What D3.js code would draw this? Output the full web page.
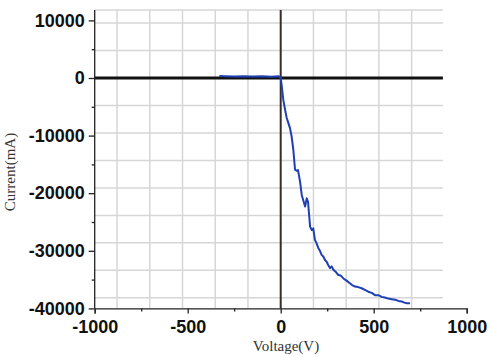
<!DOCTYPE html>
<html>
<head>
<meta charset="utf-8">
<script src="https://cdn.jsdelivr.net/npm/d3@7"></script>
<style>
  html, body { margin: 0; padding: 0; background: #fff; }
  svg { display: block; }
</style>
</head>
<body>
<div id="chart"></div>
<script>
'use strict';

// Measured I-V trace (Voltage in V, Current in mA)
const voltage = [-330, -300, -250, -200, -150, -100, -50, -10, 0,
  5, 14, 24, 32, 41, 50, 59, 68, 77, 86, 93, 104, 113, 122, 131, 140, 147,
  158, 167, 175, 184, 193, 202, 211, 220, 229, 238, 247, 256, 265, 274, 283,
  297, 310, 323, 337, 350, 363, 382, 399, 417, 435, 453, 471, 489, 507, 525,
  543, 560, 578, 597, 615, 633, 651, 665, 677, 695];
const current = [350, 300, 250, 300, 250, 300, 200, 300, 0,
  -1200, -3800, -5600, -6900, -7800, -8700, -10200, -12500, -15900, -16100, -16000, -18000, -20300, -21300, -22300, -20900, -21500,
  -25800, -26400, -26100, -28100, -28700, -29500, -30000, -30700, -31000, -31600, -31900, -32500, -33000, -32700, -33300,
  -33700, -34200, -34300, -34800, -35100, -35400, -35900, -36200, -36300, -36500, -36800, -37100, -37300, -37700, -37700,
  -38000, -38100, -38300, -38400, -38500, -38700, -38800, -39000, -39100, -39100];

const xTicks = [-1000, -500, 0, 500, 1000];
const xMinorTicks = [-750, -250, 250, 750];
const yTicks = [10000, 0, -10000, -20000, -30000, -40000];
const yMinorTicks = [5000, -5000, -15000, -25000, -35000];

// Background grid of the instrument screen
const gridV = [-880, -704, -528, -352, -176, 176, 352, 528, 704];
const gridH = [11800, 9540, 4770, -4770, -9540, -14310, -19080, -23850, -28620, -33390, -38160];

const W = 489, H = 357;
const x = d3.scaleLinear().domain([-1000, 1000]).range([94.7, 466.7]);
const y = d3.scaleLinear().domain([10000, -40000]).range([20.4, 308.4]);
const gridRight = x(872);
const gridTop = y(11800);
const plain = d => String(d);

const svg = d3.select('#chart').append('svg')
  .attr('width', W).attr('height', H);

// Grid
svg.append('g').selectAll('line').data(gridV).join('line')
  .attr('x1', d => x(d)).attr('x2', d => x(d))
  .attr('y1', gridTop).attr('y2', y(-40000))
  .attr('stroke', '#d6d6d6').attr('stroke-width', 1.5);
svg.append('g').selectAll('line').data(gridH).join('line')
  .attr('x1', x(-1000)).attr('x2', gridRight)
  .attr('y1', d => y(d)).attr('y2', d => y(d))
  .attr('stroke', '#d6d6d6').attr('stroke-width', 1.5);

// Zero lines
svg.append('line')
  .attr('x1', x(-1000)).attr('x2', gridRight)
  .attr('y1', y(0)).attr('y2', y(0))
  .attr('stroke', '#111').attr('stroke-width', 3);
svg.append('line')
  .attr('x1', x(0)).attr('x2', x(0))
  .attr('y1', gridTop).attr('y2', y(-40000))
  .attr('stroke', '#3b2c2c').attr('stroke-width', 2);

// Curve
const line = d3.line()
  .x((d, i) => x(voltage[i]))
  .y(d => y(d));
svg.append('path')
  .datum(current)
  .attr('d', line)
  .attr('fill', 'none')
  .attr('stroke', '#1f40b4')
  .attr('stroke-width', 2)
  .attr('stroke-linejoin', 'round');

// Axes
const tickFont = "bold 18px 'Liberation Sans', Arial, sans-serif";

svg.append('g')
  .attr('transform', `translate(0,${y(-40000)})`)
  .call(d3.axisBottom(x).tickValues(xTicks).tickFormat(plain)
    .tickSizeOuter(0).tickSize(5).tickPadding(7));
svg.append('g')
  .attr('transform', `translate(0,${y(-40000)})`)
  .call(d3.axisBottom(x).tickValues(xMinorTicks).tickSize(3).tickFormat(''))
  .select('.domain').remove();

const yAxis = svg.append('g')
  .attr('transform', `translate(${x(-1000)},0)`)
  .call(d3.axisLeft(y).tickValues(yTicks).tickFormat(plain)
    .tickSizeOuter(0).tickSize(6).tickPadding(4));
svg.append('g')
  .attr('transform', `translate(${x(-1000)},0)`)
  .call(d3.axisLeft(y).tickValues(yMinorTicks).tickSize(3).tickFormat(''))
  .select('.domain').remove();

yAxis.select('.domain').attr('d', `M0,${gridTop}V${y(-40000)}`);

svg.selectAll('.tick text')
  .style('font', tickFont)
  .attr('fill', '#111');
svg.selectAll('.domain, .tick line')
  .attr('stroke', '#222').attr('stroke-width', 1.3);

// Axis titles
svg.append('text')
  .attr('x', 286).attr('y', 351)
  .attr('text-anchor', 'middle')
  .attr('font-family', "'Liberation Serif', 'Times New Roman', serif")
  .attr('font-size', 15)
  .attr('fill', '#333')
  .text('Voltage(V)');

svg.append('text')
  .attr('transform', 'translate(15,172) rotate(-90)')
  .attr('text-anchor', 'middle')
  .attr('font-family', "'Liberation Serif', 'Times New Roman', serif")
  .attr('font-size', 15)
  .attr('fill', '#333')
  .text('Current(mA)');
</script>
</body>
</html>
